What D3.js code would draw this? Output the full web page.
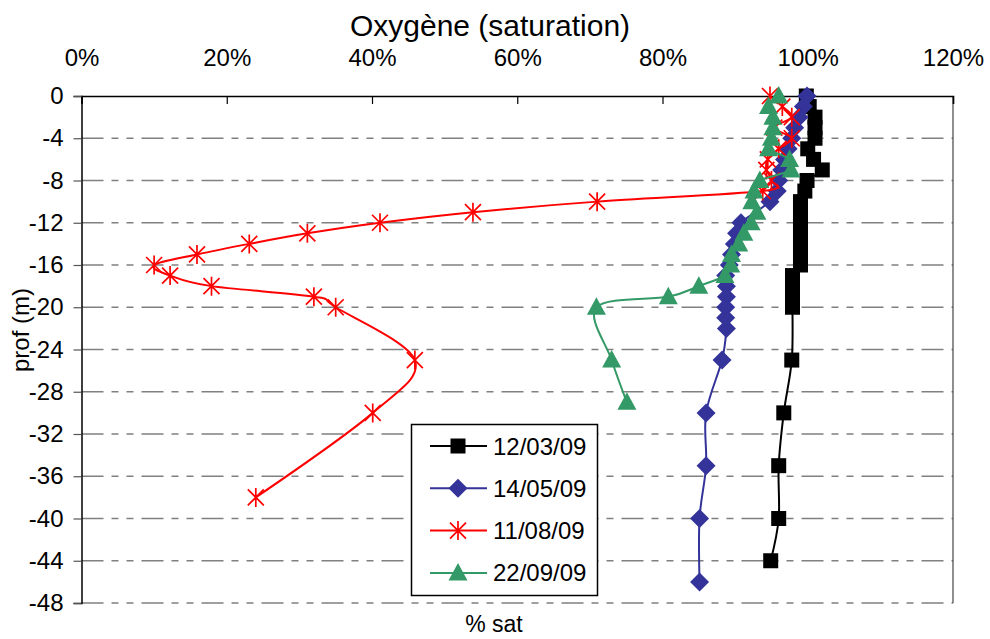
<!DOCTYPE html>
<html>
<head>
<meta charset="utf-8">
<script src="https://cdn.jsdelivr.net/npm/d3@7"></script>
<style>
  html, body { margin: 0; padding: 0; background: #fff; }
  svg { display: block; font-family: "Liberation Sans", Arial, Helvetica, sans-serif; }
</style>
</head>
<body>
<svg id="chart" width="990" height="639"></svg>
<script>
// Oxygen saturation profiles (% saturation vs depth in metres)
const xTicks = [0, 20, 40, 60, 80, 100, 120];
const yTicks = [0, -4, -8, -12, -16, -20, -24, -28, -32, -36, -40, -44, -48];

const seriesNames = ["12/03/09", "14/05/09", "11/08/09", "22/09/09"];
const seriesColors = ["#000000", "#333399", "#ff0000", "#339966"];
const seriesMarkers = ["square", "diamond", "star", "triangle"];

const depthMar = [0, -1, -2, -3, -4, -5, -6, -7, -8, -9, -10, -11, -12, -13, -14, -15, -16, -17, -18, -19, -20, -25, -30, -35, -40, -44];
const satMar   = [99.8, 100.2, 101.0, 101.0, 101.0, 100.0, 100.8, 102.0, 99.9, 99.6, 99.0, 99.0, 99.0, 99.0, 99.0, 99.0, 99.0, 97.9, 97.9, 97.9, 97.9, 97.8, 96.7, 96.0, 96.0, 94.9];

const depthMay = [0, -1, -2, -3, -4, -5, -6, -7, -8, -9, -10, -12, -13, -14, -15, -16, -17, -18, -19, -20, -21, -22, -25, -30, -35, -40, -46];
const satMay   = [99.9, 99.4, 98.8, 98.2, 97.8, 97.3, 96.8, 96.4, 96.0, 95.8, 94.8, 90.8, 90.2, 89.9, 89.5, 89.2, 88.7, 88.8, 88.8, 88.7, 88.7, 88.8, 88.2, 86.0, 86.0, 85.1, 85.1];

const depthAug = [0, -1, -2, -3, -4, -5, -6, -7, -8, -9, -10, -11, -12, -13, -14, -15, -16, -17, -18, -19, -20, -25, -30, -38];
const satAug   = [94.8, 96.5, 97.8, 95.4, 97.8, 96.0, 94.5, 94.3, 95.0, 93.8, 71.0, 53.9, 41.1, 31.1, 23.1, 15.9, 10.0, 12.2, 17.9, 32.0, 35.0, 45.9, 40.1, 24.0];

const depthSep = [0, -1, -2, -3, -4, -5, -6, -7, -8, -9, -10, -11, -12, -13, -14, -15, -16, -17, -18, -19, -20, -25, -29];
const satSep   = [96.0, 94.6, 95.2, 95.2, 95.0, 94.6, 97.5, 97.7, 93.4, 92.6, 92.3, 93.0, 92.2, 91.2, 90.5, 89.5, 89.4, 88.6, 85.0, 80.8, 70.9, 73.0, 75.1];

const depths = [depthMar, depthMay, depthAug, depthSep];
const sats = [satMar, satMay, satAug, satSep];

const svg = d3.select("#chart");
const plotLeft = 81.5, plotRight = 953, plotTop = 96, plotBottom = 603;

const x = d3.scaleLinear().domain([0, 120]).range([plotLeft, plotRight]);
const y = d3.scaleLinear().domain([0, -48]).range([plotTop, plotBottom]);

// Horizontal dashed gridlines
svg.append("g")
  .selectAll("line")
  .data(yTicks.filter(d => d !== 0))
  .join("line")
  .attr("x1", plotLeft).attr("x2", plotRight)
  .attr("y1", d => y(d)).attr("y2", d => y(d))
  .attr("stroke", "#808080")
  .attr("stroke-width", 1.5)
  .attr("stroke-dasharray", "22,8,7,8,7,8");

// Right plot border
svg.append("line").attr("x1", plotRight).attr("x2", plotRight).attr("y1", plotTop).attr("y2", plotBottom)
  .attr("stroke", "#444").attr("stroke-width", 1.2);

// Top (x) axis
const xAxis = d3.axisTop(x).tickValues(xTicks).tickFormat(d => d + "%").tickSize(-8).tickPadding(0);
const gx = svg.append("g").attr("transform", `translate(0,${plotTop})`).call(xAxis);
gx.select(".domain").attr("stroke", "#000").attr("stroke-width", 1.5);
gx.selectAll(".tick line").attr("stroke", "#000").attr("stroke-width", 1.2);
gx.selectAll(".tick text")
  .attr("y", -30)
  .attr("font-size", 24)
  .attr("fill", "#000")
  .attr("font-family", "Liberation Sans, Arial, sans-serif");

// Left (y) axis
const yAxis = d3.axisLeft(y).tickValues(yTicks).tickFormat(d => d === 0 ? "0" : "-" + Math.abs(d)).tickSize(8).tickPadding(10);
const gy = svg.append("g").attr("transform", `translate(${plotLeft},0)`).call(yAxis);
gy.select(".domain").attr("stroke", "#000").attr("stroke-width", 1.5);
gy.selectAll(".tick line").attr("stroke", "#555").attr("stroke-width", 1.2);
gy.selectAll(".tick text")
  .attr("font-size", 24)
  .attr("fill", "#000")
  .attr("font-family", "Liberation Sans, Arial, sans-serif");

// Titles
svg.append("text").attr("x", 490).attr("y", 36).attr("text-anchor", "middle")
  .attr("font-size", 30).text("Oxygène (saturation)");
svg.append("text").attr("x", 494).attr("y", 632).attr("text-anchor", "middle")
  .attr("font-size", 23).text("% sat");
svg.append("text").attr("transform", "translate(29,330) rotate(-90)").attr("text-anchor", "middle")
  .attr("font-size", 24).text("prof (m)");

// Marker drawing
function drawMarker(g, type, color) {
  if (type === "square") {
    g.append("rect").attr("x", -7.5).attr("y", -7.5).attr("width", 15).attr("height", 15).attr("fill", color);
  } else if (type === "diamond") {
    g.append("path").attr("d", "M0,-9.5L9.5,0L0,9.5L-9.5,0Z").attr("fill", color);
  } else if (type === "triangle") {
    g.append("path").attr("d", "M0,-10L9.5,7.5L-9.5,7.5Z").attr("fill", color);
  } else if (type === "star") {
    g.append("path").attr("d", "M0,-9.5L0,9.5M-8,-8L8,8M-8,8L8,-8")
      .attr("stroke", color).attr("stroke-width", 1.7).attr("fill", "none");
  }
}

const line = d3.line()
  .x(d => x(d.s))
  .y(d => y(d.z))
  .curve(d3.curveCatmullRom.alpha(0));

seriesNames.forEach((name, i) => {
  const pts = depths[i].map((z, k) => ({ z, s: sats[i][k] }));
  const g = svg.append("g");
  g.append("path").datum(pts)
    .attr("d", line)
    .attr("fill", "none")
    .attr("stroke", seriesColors[i])
    .attr("stroke-width", 2);
  g.selectAll("g.m").data(pts).join("g")
    .attr("class", "m")
    .attr("transform", d => `translate(${x(d.s)},${y(d.z)})`)
    .each(function () { drawMarker(d3.select(this), seriesMarkers[i], seriesColors[i]); });
});

// Legend
const lg = svg.append("g");
lg.append("rect").attr("x", 411.5).attr("y", 424.5).attr("width", 186).attr("height", 171)
  .attr("fill", "#fff").attr("stroke", "#000").attr("stroke-width", 1.5);
seriesNames.forEach((name, i) => {
  const cy = 446 + i * 42.3;
  lg.append("line").attr("x1", 430).attr("x2", 487).attr("y1", cy).attr("y2", cy)
    .attr("stroke", seriesColors[i]).attr("stroke-width", 2);
  const m = lg.append("g").attr("transform", `translate(458,${cy})`);
  drawMarker(m, seriesMarkers[i], seriesColors[i]);
  lg.append("text").attr("x", 493).attr("y", cy + 8.5).attr("font-size", 24).text(name);
});
</script>
</body>
</html>
